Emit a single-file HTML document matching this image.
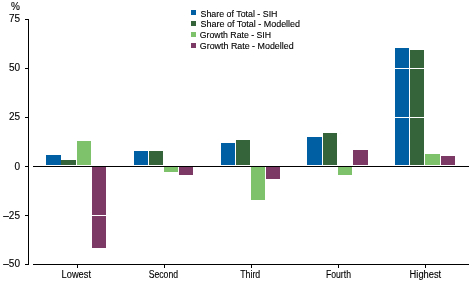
<!DOCTYPE html>
<html><head><meta charset="utf-8"><style>
html,body{margin:0;padding:0;background:#fff;}
svg{display:block;will-change:transform;}
text{font-family:"Liberation Sans",sans-serif;fill:#000;stroke:#000;stroke-width:0.12px;}
</style></head><body>
<svg width="472" height="283" viewBox="0 0 472 283" xmlns="http://www.w3.org/2000/svg">
<rect x="0" y="0" width="472" height="283" fill="#fff"/>
<g shape-rendering="crispEdges">
<rect x="46" y="155" width="15" height="10" fill="#005FA3"/>
<rect x="61" y="160" width="15" height="5" fill="#36643A"/>
<rect x="77" y="141" width="14" height="24" fill="#7EC36C"/>
<rect x="92" y="167" width="14" height="81" fill="#7D3966"/>
<rect x="134" y="151" width="14" height="14" fill="#005FA3"/>
<rect x="149" y="151" width="14" height="14" fill="#36643A"/>
<rect x="164" y="167" width="14" height="5" fill="#7EC36C"/>
<rect x="179" y="167" width="14" height="8" fill="#7D3966"/>
<rect x="221" y="143" width="14" height="22" fill="#005FA3"/>
<rect x="236" y="140" width="14" height="25" fill="#36643A"/>
<rect x="251" y="167" width="14" height="33" fill="#7EC36C"/>
<rect x="266" y="167" width="14" height="12" fill="#7D3966"/>
<rect x="307" y="137" width="15" height="28" fill="#005FA3"/>
<rect x="323" y="133" width="14" height="32" fill="#36643A"/>
<rect x="338" y="167" width="14" height="8" fill="#7EC36C"/>
<rect x="353" y="150" width="15" height="15" fill="#7D3966"/>
<rect x="395" y="48" width="14" height="117" fill="#005FA3"/>
<rect x="410" y="50" width="14" height="115" fill="#36643A"/>
<rect x="425" y="154" width="15" height="11" fill="#7EC36C"/>
<rect x="441" y="156" width="14" height="9" fill="#7D3966"/>
<rect x="33" y="19" width="436" height="1" fill="#fff"/>
<rect x="33" y="68" width="436" height="1" fill="#fff"/>
<rect x="33" y="117" width="436" height="1" fill="#fff"/>
<rect x="33" y="215" width="436" height="1" fill="#fff"/>
<rect x="28" y="19" width="1" height="246" fill="#000"/>
<rect x="25" y="19" width="4" height="1" fill="#000"/>
<rect x="25" y="68" width="4" height="1" fill="#000"/>
<rect x="25" y="117" width="4" height="1" fill="#000"/>
<rect x="25" y="166" width="4" height="1" fill="#000"/>
<rect x="25" y="215" width="4" height="1" fill="#000"/>
<rect x="25" y="264" width="4" height="1" fill="#000"/>
<rect x="33" y="166" width="436" height="1" fill="#000"/>
<rect x="33" y="264" width="436" height="1" fill="#000"/>
<rect x="77" y="264" width="1" height="4" fill="#000"/>
<rect x="164" y="264" width="1" height="4" fill="#000"/>
<rect x="251" y="264" width="1" height="4" fill="#000"/>
<rect x="338" y="264" width="1" height="4" fill="#000"/>
<rect x="425" y="264" width="1" height="4" fill="#000"/>
</g>
<text x="20" y="22" text-anchor="end" font-size="10">75</text>
<text x="20" y="71" text-anchor="end" font-size="10">50</text>
<text x="20" y="120" text-anchor="end" font-size="10">25</text>
<text x="20" y="170" text-anchor="end" font-size="10">0</text>
<text x="20" y="219" text-anchor="end" font-size="10">&#8211;25</text>
<text x="20" y="267" text-anchor="end" font-size="10">&#8211;50</text>
<text x="11" y="10" text-anchor="start" font-size="10">%</text>
<text x="61.6" y="278" text-anchor="start" font-size="10" textLength="29.4" lengthAdjust="spacingAndGlyphs">Lowest</text>
<text x="148.7" y="278" text-anchor="start" font-size="10" textLength="29.4" lengthAdjust="spacingAndGlyphs">Second</text>
<text x="240.25" y="278" text-anchor="start" font-size="10" textLength="20" lengthAdjust="spacingAndGlyphs">Third</text>
<text x="325.95" y="278" text-anchor="start" font-size="10" textLength="25" lengthAdjust="spacingAndGlyphs">Fourth</text>
<text x="409.6" y="278" text-anchor="start" font-size="10" textLength="31.6" lengthAdjust="spacingAndGlyphs">Highest</text>
<rect x="191" y="10" width="5" height="5" fill="#005FA3"/>
<text x="200.5" y="17" text-anchor="start" font-size="9.5" textLength="77.0" lengthAdjust="spacingAndGlyphs">Share of Total - SIH</text>
<rect x="191" y="21" width="5" height="5" fill="#36643A"/>
<text x="200.5" y="27" text-anchor="start" font-size="9.5" textLength="99.6" lengthAdjust="spacingAndGlyphs">Share of Total - Modelled</text>
<rect x="191" y="32" width="5" height="5" fill="#7EC36C"/>
<text x="199.8" y="38" text-anchor="start" font-size="9.5" textLength="71.3" lengthAdjust="spacingAndGlyphs">Growth Rate - SIH</text>
<rect x="191" y="43" width="5" height="5" fill="#7D3966"/>
<text x="199.8" y="49" text-anchor="start" font-size="9.5" textLength="93.8" lengthAdjust="spacingAndGlyphs">Growth Rate - Modelled</text>
</svg>
</body></html>
